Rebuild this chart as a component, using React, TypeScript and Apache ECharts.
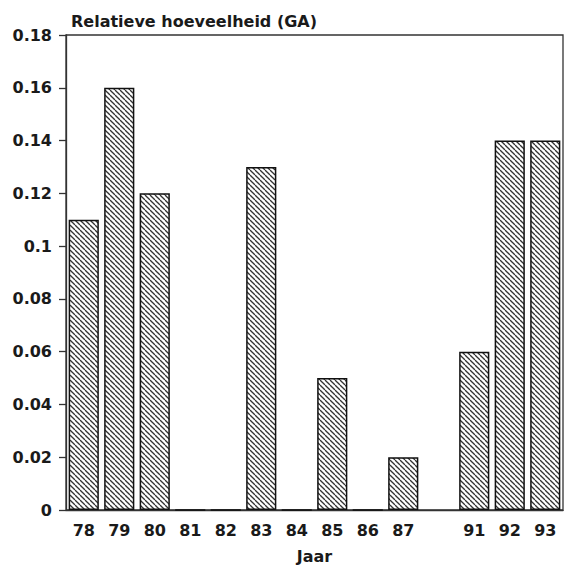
import React, { useEffect, useRef } from "react";
import * as echarts from "echarts";

const years: string[] = ["78", "79", "80", "81", "82", "83", "84", "85", "86", "87", "", "91", "92", "93"];
const values: (number | null)[] = [0.11, 0.16, 0.12, 0, 0, 0.13, 0, 0.05, 0, 0.02, null, 0.06, 0.14, 0.14];
const yTitle = "Relatieve hoeveelheid (GA)";
const xTitle = "Jaar";
const yMin = 0;
const yMax = 0.18;
const yStep = 0.02;

function makeHatch(): HTMLCanvasElement {
  const s = 5;
  const c = document.createElement("canvas");
  c.width = s;
  c.height = s;
  const ctx = c.getContext("2d")!;
  ctx.fillStyle = "#ffffff";
  ctx.fillRect(0, 0, s, s);
  ctx.strokeStyle = "#333333";
  ctx.lineWidth = 1.3;
  for (let k = -1; k <= 1; k++) {
    ctx.beginPath();
    ctx.moveTo(k * s, 0);
    ctx.lineTo(k * s + s, s);
    ctx.stroke();
  }
  return c;
}

export default function App() {
  const ref = useRef<HTMLDivElement>(null);
  useEffect(() => {
    if (!ref.current) return;
    const chart = echarts.init(ref.current, undefined, { renderer: "svg" });
    const font = "'DejaVu Sans', Arial, sans-serif";
    chart.setOption({
      animation: false,
      backgroundColor: "#ffffff",
      title: {
        text: yTitle,
        left: 66,
        top: 8,
        textStyle: { fontFamily: font, fontWeight: "bold", fontSize: 16, color: "#1a1a1a" },
      },
      grid: {
        left: 66,
        right: 10,
        top: 35,
        bottom: 63,
        show: true,
        borderColor: "#333",
        borderWidth: 1.3,
        backgroundColor: "transparent",
      },
      xAxis: {
        type: "category",
        data: years,
        name: xTitle,
        nameLocation: "middle",
        nameGap: 38,
        nameTextStyle: { fontFamily: font, fontWeight: "bold", fontSize: 16, color: "#1a1a1a" },
        axisLine: { show: true, lineStyle: { color: "#333", width: 1.3 } },
        axisTick: { show: false },
        axisLabel: { fontFamily: font, fontWeight: "bold", fontSize: 16, color: "#1a1a1a", margin: 12, interval: 0 },
        splitLine: { show: false },
      },
      yAxis: {
        type: "value",
        min: yMin,
        max: yMax,
        interval: yStep,
        axisLine: { show: true, lineStyle: { color: "#333", width: 1.3 } },
        axisTick: { show: true, length: 7, lineStyle: { color: "#333", width: 1.3 } },
        axisLabel: {
          fontFamily: font,
          fontWeight: "bold",
          fontSize: 16,
          color: "#1a1a1a",
          margin: 14,
          formatter: (v: number) => (v === 0 ? "0" : String(Math.round(v * 100) / 100)),
        },
        splitLine: { show: false },
      },
      series: [
        {
          type: "bar",
          data: values,
          barCategoryGap: "15%",
          itemStyle: {
            color: { image: makeHatch(), repeat: "repeat" },
            borderColor: "#111",
            borderWidth: 1.5,
          },
        },
      ],
    });
    return () => chart.dispose();
  }, []);
  return <div ref={ref} style={{ width: 573, height: 573, position: "absolute", left: 0, top: 0 }} />;
}
